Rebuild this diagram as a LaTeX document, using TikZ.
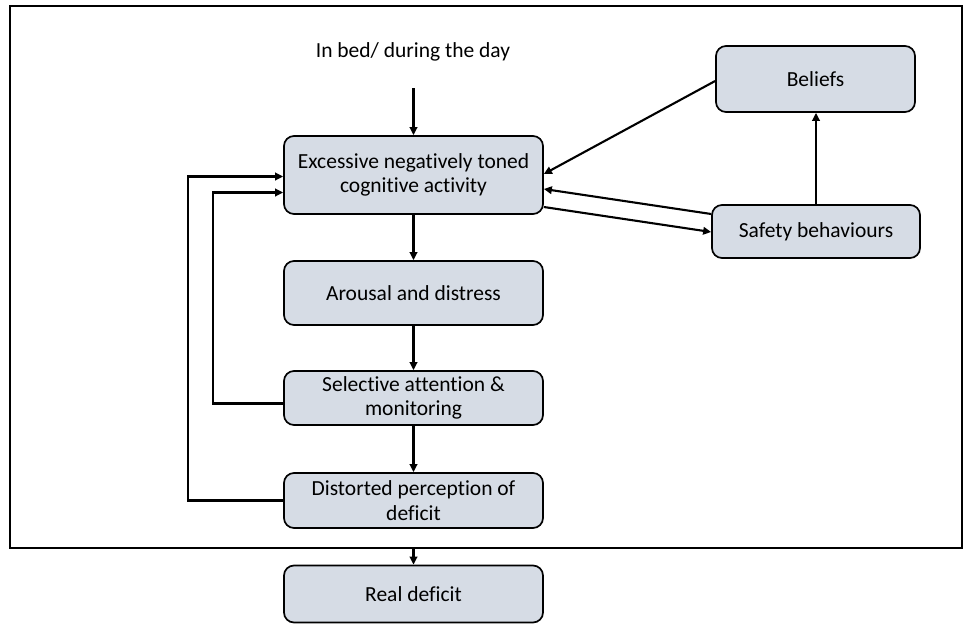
\documentclass[tikz,border=0pt]{standalone}
\usepackage{fontspec}
\setmainfont{Carlito}[Ligatures={NoCommon}]
\usetikzlibrary{arrows.meta}
\definecolor{boxfill}{RGB}{214,220,229}
\begin{document}
\begin{tikzpicture}[x=1pt,y=-1pt,
  box/.style={draw=black, line width=1.7pt, fill=boxfill, rounded corners=10pt,
    align=center, inner sep=0pt, font=\fontsize{21.5}{24.5}\selectfont},
  arr/.style={line width=2.1pt, -{Triangle[length=8pt,width=7.5pt]}},
  label/.style={font=\fontsize{21.5}{24.5}\selectfont, inner sep=0pt},
]
\useasboundingbox (0,0) rectangle (970,624);

% outer frame
\node[draw, line width=1.8pt, minimum width=952pt, minimum height=542pt,
  inner sep=0pt] (frame) at (486,277) {};

% boxes
\node[label] (title) at (413,52) {In bed/ during the day};
\node[box, minimum width=259pt, minimum height=78pt] (exc) at (413.5,175)
  {Excessive negatively toned\\cognitive activity};
\node[box, minimum width=259pt, minimum height=64pt] (aro) at (413.5,293)
  {Arousal and distress};
\node[box, minimum width=259pt, minimum height=54pt] (sel) at (413.5,398)
  {Selective attention \&\\monitoring};
\node[box, minimum width=259pt, minimum height=55pt] (dis) at (413.5,500.5)
  {Distorted perception of\\deficit};
\node[box, minimum width=259pt, minimum height=57pt] (real) at (413.5,594)
  {Real deficit};
\node[box, minimum width=199pt, minimum height=66pt] (bel) at (815.5,79)
  {Beliefs};
\node[box, minimum width=208pt, minimum height=53pt] (saf) at (816,231.5)
  {Safety behaviours};

% main chain
\coordinate (start) at (413.5,88);
\draw[arr] (start) -- (exc.north);
\draw[arr] (exc.south) -- (aro.north);
\draw[arr] (aro.south) -- (sel.north);
\draw[arr] (sel.south) -- (dis.north);
\draw[arr] (frame.south -| real.north) -- (real.north);

% feedback loops on the left
\draw[arr] (dis.west) -- ++(-95.5,0) |- ([yshift=-1.5pt]exc.west);
\draw[arr] ([yshift=-5.5pt]sel.west) -- ++(-70.5,0) |- ([yshift=-17.5pt]exc.west);

% links on the right
\draw[arr] ([yshift=-2pt]bel.west) -- ([yshift=1pt]exc.east);
\draw[arr] ([yshift=17.5pt]saf.west) -- ([yshift=-14pt]exc.east);
\draw[arr] ([yshift=-32pt]exc.east) -- ([yshift=-0.5pt]saf.west);
\draw[arr] (saf.north) -- (saf.north |- bel.south);
\end{tikzpicture}
\end{document}
